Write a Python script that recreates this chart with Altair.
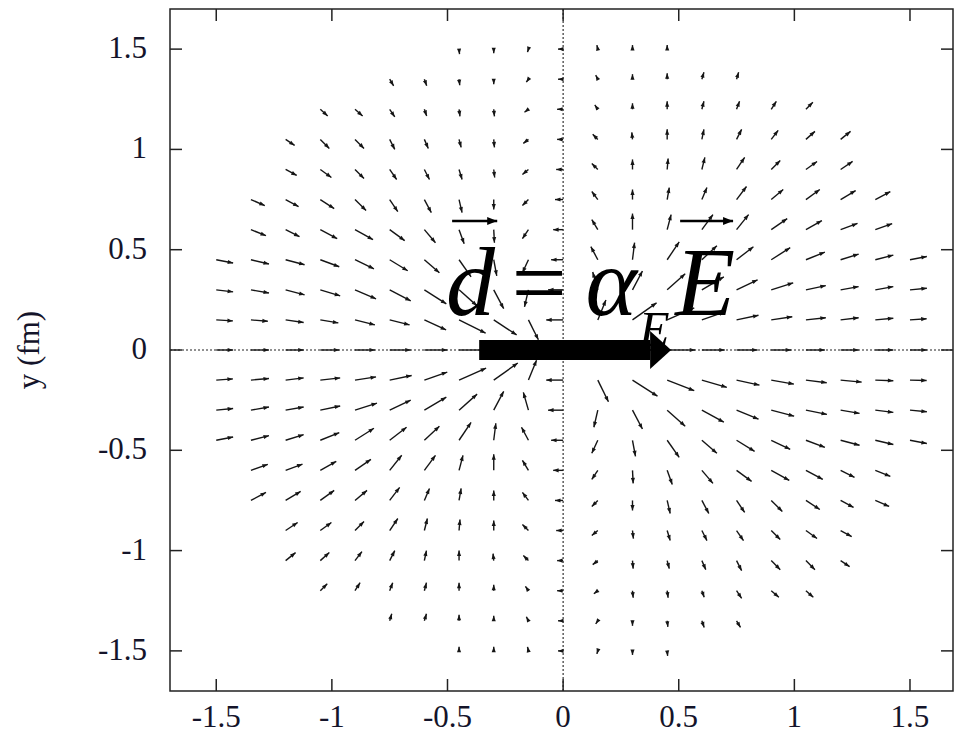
import altair as alt
import numpy as np
import pandas as pd

# Grid of sample points (fm), axis ticks and their labels
GRID_X = [-1.5, -1.35, -1.2, -1.05, -0.9, -0.75, -0.6, -0.45, -0.3, -0.15, 0.0,
          0.15, 0.3, 0.45, 0.6, 0.75, 0.9, 1.05, 1.2, 1.35, 1.5]
AXIS_TICKS = [-1.5, -1, -0.5, 0, 0.5, 1, 1.5]
TICK_LABELS = ["-1.5", "-1", "-0.5", "0", "0.5", "1", "1.5"]
Y_TITLE = "y (fm)"

# Displacement vectors (u, v) in fm, one pair of lists per row of the grid.
# Each row is centred on x = 0 and covers as many grid columns as it has values.
u_p150 = [0.002, 0, -0.004, -0.022, -0.004, 0, 0]
v_p150 = [-0.025, -0.020, -0.015, 0, 0.020, 0.020, 0.020]
u_p135 = [0.017, 0.010, 0.003, 0, -0.009, -0.022, -0.009, 0, 0, 0.009, 0.009]
v_p135 = [-0.033, -0.033, -0.030, -0.025, -0.015, 0, 0.020, 0.025, 0.030, 0.035, 0.035]
u_p120 = [0.032, 0.033, 0.022, 0.010, 0.004, 0.003, -0.017, -0.026, -0.013, 0, 0, 0.009, 0.013, 0.022, 0.030]
v_p120 = [-0.033, -0.033, -0.038, -0.033, -0.035, -0.035, -0.015, 0, 0.022, 0.030, 0.040, 0.040, 0.040, 0.040, 0.035]
u_p105 = [0.039, 0.039, 0.039, 0.022, 0.017, 0.009, 0.003, -0.022, -0.026, -0.022, -0.003, 0, 0.009, 0.022, 0.030, 0.039, 0.043]
v_p105 = [-0.030, -0.045, -0.045, -0.050, -0.045, -0.040, -0.040, -0.020, 0, 0.025, 0.035, 0.050, 0.050, 0.050, 0.045, 0.040, 0.040]
u_p090 = [0.048, 0.048, 0.039, 0.030, 0.022, 0.013, 0.004, -0.026, -0.030, -0.026, 0, 0.004, 0.013, 0.035, 0.039, 0.048, 0.052]
v_p090 = [-0.030, -0.040, -0.045, -0.050, -0.050, -0.050, -0.040, -0.025, 0, 0.030, 0.050, 0.055, 0.060, 0.060, 0.045, 0.040, 0.040]
u_p075 = [0.060, 0.056, 0.060, 0.048, 0.035, 0.030, 0.013, 0, -0.026, -0.035, -0.026, 0, 0.009, 0.022, 0.043, 0.052, 0.060, 0.065, 0.065]
v_p075 = [-0.030, -0.035, -0.045, -0.055, -0.060, -0.065, -0.065, -0.050, -0.030, 0, 0.040, 0.050, 0.060, 0.060, 0.065, 0.050, 0.050, 0.045, 0.040]
u_p060 = [0.065, 0.060, 0.073, 0.078, 0.065, 0.048, 0.022, 0.003, -0.026, -0.043, -0.026, 0, 0.017, 0.048, 0.052, 0.069, 0.069, 0.073, 0.073]
v_p060 = [-0.030, -0.035, -0.045, -0.050, -0.055, -0.065, -0.070, -0.065, -0.045, 0, 0.050, 0.080, 0.075, 0.075, 0.075, 0.055, 0.045, 0.031, 0.030]
u_p045 = [0.073, 0.078, 0.082, 0.082, 0.082, 0.078, 0.065, 0.052, 0.013, -0.026, -0.052, -0.030, 0.009, 0.052, 0.065, 0.073, 0.082, 0.082, 0.078, 0.078, 0.073]
v_p045 = [-0.016, -0.021, -0.025, -0.035, -0.045, -0.055, -0.065, -0.085, -0.080, -0.065, 0, 0.065, 0.085, 0.089, 0.070, 0.065, 0.060, 0.038, 0.028, 0.023, 0.016]
u_p030 = [0.073, 0.078, 0.082, 0.086, 0.091, 0.091, 0.095, 0.078, 0.043, -0.017, -0.065, -0.022, 0.043, 0.078, 0.095, 0.091, 0.095, 0.086, 0.078, 0.078, 0.073]
v_p030 = [-0.010, -0.016, -0.025, -0.030, -0.045, -0.055, -0.070, -0.080, -0.094, -0.085, 0, 0.089, 0.094, 0.080, 0.065, 0.050, 0.035, 0.021, 0.016, 0.016, 0.008]
u_p015 = [0.072, 0.073, 0.078, 0.078, 0.086, 0.086, 0.094, 0.115, 0.099, 0.043, -0.073, 0.035, 0.104, 0.117, 0.099, 0.095, 0.091, 0.086, 0.078, 0.078, 0.072]
v_p015 = [-0.005, -0.007, -0.013, -0.015, -0.025, -0.025, -0.050, -0.066, -0.075, -0.099, 0, 0.099, 0.085, 0.060, 0.040, 0.023, 0.016, 0.011, 0.011, 0.008, 0.006]
u_000 = [0.073, 0.078, 0.078, 0.082, 0.086, 0.091, 0.099, 0.121, 0.143, 0.164, 0.130, 0.164, 0.143, 0.121, 0.099, 0.091, 0.086, 0.082, 0.078, 0.078, 0.073]
v_000 = [0, 0, 0, 0, 0, 0, 0, 0, 0, 0, 0, 0, 0, 0, 0, 0, 0, 0, 0, 0, 0]
u_m015 = [0.072, 0.078, 0.078, 0.086, 0.091, 0.095, 0.099, 0.117, 0.104, 0.035, -0.073, 0.046, 0.108, 0.117, 0.108, 0.099, 0.098, 0.090, 0.091, 0.078, 0.072]
v_m015 = [0.006, 0.008, 0.011, 0.011, 0.016, 0.023, 0.040, 0.060, 0.085, 0.099, 0, -0.108, -0.080, -0.053, -0.036, -0.025, -0.020, -0.013, -0.010, -0.003, -0.002]
u_m030 = [0.073, 0.078, 0.078, 0.086, 0.095, 0.091, 0.095, 0.078, 0.043, -0.022, -0.065, -0.017, 0.043, 0.078, 0.095, 0.095, 0.099, 0.091, 0.082, 0.078, 0.073]
v_m030 = [0.008, 0.016, 0.016, 0.021, 0.035, 0.050, 0.065, 0.080, 0.094, 0.089, 0, -0.085, -0.094, -0.080, -0.060, -0.045, -0.030, -0.021, -0.016, -0.011, -0.008]
u_m045 = [0.073, 0.078, 0.078, 0.082, 0.082, 0.073, 0.065, 0.052, 0.009, -0.030, -0.052, -0.026, 0.013, 0.052, 0.065, 0.078, 0.082, 0.082, 0.082, 0.078, 0.073]
v_m045 = [0.016, 0.023, 0.028, 0.038, 0.060, 0.065, 0.070, 0.089, 0.085, 0.065, 0, -0.065, -0.080, -0.085, -0.065, -0.055, -0.045, -0.035, -0.025, -0.021, -0.016]
u_m060 = [0.073, 0.073, 0.069, 0.069, 0.052, 0.048, 0.017, 0, -0.026, -0.043, -0.026, 0.003, 0.022, 0.048, 0.065, 0.078, 0.073, 0.060, 0.065]
v_m060 = [0.030, 0.031, 0.045, 0.055, 0.075, 0.075, 0.075, 0.080, 0.050, 0, -0.045, -0.065, -0.070, -0.065, -0.055, -0.050, -0.045, -0.035, -0.030]
u_m075 = [0.065, 0.065, 0.060, 0.052, 0.043, 0.022, 0.009, 0, -0.026, -0.035, -0.026, 0, 0.013, 0.030, 0.035, 0.048, 0.060, 0.056, 0.060]
v_m075 = [0.040, 0.045, 0.050, 0.050, 0.065, 0.060, 0.060, 0.050, 0.040, 0, -0.030, -0.050, -0.065, -0.065, -0.060, -0.055, -0.045, -0.035, -0.030]
u_m090 = [0.052, 0.048, 0.039, 0.035, 0.013, 0.004, 0, -0.026, -0.030, -0.026, 0.004, 0.013, 0.022, 0.030, 0.039, 0.048, 0.048]
v_m090 = [0.040, 0.040, 0.045, 0.060, 0.060, 0.055, 0.050, 0.030, 0, -0.025, -0.040, -0.050, -0.050, -0.050, -0.045, -0.040, -0.030]
u_m105 = [0.043, 0.039, 0.030, 0.022, 0.009, 0, -0.003, -0.022, -0.026, -0.022, 0.003, 0.009, 0.017, 0.022, 0.039, 0.039, 0.039]
v_m105 = [0.040, 0.040, 0.045, 0.050, 0.050, 0.050, 0.035, 0.025, 0, -0.020, -0.040, -0.040, -0.045, -0.050, -0.045, -0.045, -0.030]
u_m120 = [0.030, 0.022, 0.013, 0.009, 0, 0, -0.013, -0.026, -0.017, 0.003, 0.004, 0.010, 0.022, 0.033, 0.032]
v_m120 = [0.035, 0.040, 0.040, 0.040, 0.040, 0.030, 0.022, 0, -0.015, -0.035, -0.035, -0.033, -0.038, -0.033, -0.033]
u_m135 = [0.009, 0.009, 0, 0, -0.009, -0.022, -0.009, 0, 0.003, 0.010, 0.017]
v_m135 = [0.035, 0.035, 0.030, 0.025, 0.020, 0, -0.015, -0.025, -0.030, -0.033, -0.033]
u_m150 = [0, 0, -0.004, -0.022, -0.004, 0, 0.002]
v_m150 = [0.020, 0.020, 0.020, 0, -0.015, -0.020, -0.025]

ROWS = [
    (1.5, u_p150, v_p150), (1.35, u_p135, v_p135), (1.2, u_p120, v_p120),
    (1.05, u_p105, v_p105), (0.9, u_p090, v_p090), (0.75, u_p075, v_p075),
    (0.6, u_p060, v_p060), (0.45, u_p045, v_p045), (0.3, u_p030, v_p030),
    (0.15, u_p015, v_p015), (0.0, u_000, v_000), (-0.15, u_m015, v_m015),
    (-0.3, u_m030, v_m030), (-0.45, u_m045, v_m045), (-0.6, u_m060, v_m060),
    (-0.75, u_m075, v_m075), (-0.9, u_m090, v_m090), (-1.05, u_m105, v_m105),
    (-1.2, u_m120, v_m120), (-1.35, u_m135, v_m135), (-1.5, u_m150, v_m150),
]

# Annotation: d = alpha_E E, and the large arrow along the x axis
BIG_ARROW_TAIL = -0.363
BIG_ARROW_TIP = 0.467
FORMULA_BASE_Y = 0.174
FORMULA_ITALIC = ["d", "α", "E"]
FORMULA_ITALIC_X = [-0.40, 0.208, 0.614]
FORMULA_EQ_X = -0.104
SUBSCRIPT_X, SUBSCRIPT_Y = 0.394, 0.02
OVER_ARROW_X1 = [-0.48, 0.506]
OVER_ARROW_X2 = [-0.285, 0.735]
OVER_ARROW_Y = 0.643

# ---- layout ----
X_DOMAIN = [-1.7, 1.686]
Y_DOMAIN = [-1.7, 1.7]
W, H = 783, 682
PX_X = W / (X_DOMAIN[1] - X_DOMAIN[0])
PX_Y = H / (Y_DOMAIN[1] - Y_DOMAIN[0])
INK = "#151515"
LABEL_INK = "#14142a"
SERIF = "Liberation Serif, Times New Roman, serif"
LABEL_SIZE = 31

recs = []
for y, us, vs in ROWS:
    n = (len(us) - 1) // 2
    for x, u, v in zip(GRID_X[10 - n: 11 + n], us, vs):
        ang = (np.degrees(np.arctan2(u * PX_X, v * PX_Y)) + 360) % 360
        recs.append({"x": x, "y": y, "xe": x + u, "ye": y + v, "ang": ang})
field = pd.DataFrame(recs)

xs = alt.Scale(domain=X_DOMAIN, nice=False, zero=False)
ys = alt.Scale(domain=Y_DOMAIN, nice=False, zero=False)


def X(f):
    return alt.X(f, scale=xs, axis=None)


def Y(f):
    return alt.Y(f, scale=ys, axis=None)


HEAD = "M0,0 L0.75,2 L-0.75,2 Z"

shafts = alt.Chart(field).mark_rule(color=INK, strokeWidth=1.4).encode(
    x=X("x:Q"), y=Y("y:Q"), x2="xe:Q", y2="ye:Q")

heads = alt.Chart(field).mark_point(shape=HEAD, filled=True, size=30, color=INK, opacity=1).encode(
    x=X("xe:Q"), y=Y("ye:Q"), angle=alt.Angle("ang:Q", scale=None))

zero_h = alt.Chart(pd.DataFrame({"a": [X_DOMAIN[0]], "b": [X_DOMAIN[1]], "y": [0.0]})).mark_rule(
    color="#222222", strokeWidth=1.1, strokeDash=[2, 2]).encode(x=X("a:Q"), x2="b:Q", y=Y("y:Q"))
zero_v = alt.Chart(pd.DataFrame({"x": [0.0], "a": [Y_DOMAIN[0]], "b": [Y_DOMAIN[1]]})).mark_rule(
    color="#222222", strokeWidth=1.1, strokeDash=[2, 2]).encode(x=X("x:Q"), y=Y("a:Q"), y2="b:Q")

# inward ticks on all four sides, labels drawn as text
tick_df = pd.DataFrame({"t": AXIS_TICKS, "lab": TICK_LABELS})
TL = 12
tick_style = dict(color="#222222", strokeWidth=1.5)
ticks_left = alt.Chart(tick_df).mark_rule(**tick_style).encode(
    y=Y("t:Q"), x=alt.value(0), x2=alt.value(TL))
ticks_right = alt.Chart(tick_df).mark_rule(**tick_style).encode(
    y=Y("t:Q"), x=alt.value(W - TL), x2=alt.value(W))
ticks_bottom = alt.Chart(tick_df).mark_rule(**tick_style).encode(
    x=X("t:Q"), y=alt.value(H - TL), y2=alt.value(H))
ticks_top = alt.Chart(tick_df).mark_rule(**tick_style).encode(
    x=X("t:Q"), y=alt.value(0), y2=alt.value(TL))

ylabels = alt.Chart(tick_df).mark_text(font=SERIF, fontSize=LABEL_SIZE, color=LABEL_INK,
                                       align="right", baseline="middle").encode(
    y=Y("t:Q"), x=alt.value(-23), text="lab:N")
xlabels = alt.Chart(tick_df).mark_text(font=SERIF, fontSize=LABEL_SIZE, color=LABEL_INK,
                                       align="center", baseline="top").encode(
    x=X("t:Q"), y=alt.value(H + 12), text="lab:N")
ytitle = alt.Chart(pd.DataFrame({"t": [Y_TITLE]})).mark_text(
    font=SERIF, fontSize=LABEL_SIZE, color=LABEL_INK, angle=270, align="center",
    baseline="middle").encode(x=alt.value(-140), y=alt.value(341), text="t:N")

formula_df = pd.DataFrame({"t": FORMULA_ITALIC, "x": FORMULA_ITALIC_X,
                           "y": [FORMULA_BASE_Y] * len(FORMULA_ITALIC)})
formula = alt.Chart(formula_df).mark_text(font=SERIF, fontSize=98, fontStyle="italic",
                                          color="black", align="center", baseline="alphabetic").encode(
    x=X("x:Q"), y=Y("y:Q"), text="t:N")
equals = alt.Chart(pd.DataFrame({"t": ["="], "x": [FORMULA_EQ_X], "y": [FORMULA_BASE_Y]})).mark_text(
    font=SERIF, fontSize=98, color="black", align="center", baseline="alphabetic").encode(
    x=X("x:Q"), y=Y("y:Q"), text="t:N")
subscript = alt.Chart(pd.DataFrame({"t": ["E"], "x": [SUBSCRIPT_X], "y": [SUBSCRIPT_Y]})).mark_text(
    font=SERIF, fontSize=50, fontStyle="italic", color="black", align="center",
    baseline="alphabetic").encode(x=X("x:Q"), y=Y("y:Q"), text="t:N")

over_df = pd.DataFrame({"a": OVER_ARROW_X1, "b": OVER_ARROW_X2, "y": [OVER_ARROW_Y] * 2})
over_shaft = alt.Chart(over_df).mark_rule(color="black", strokeWidth=2.5).encode(
    x=X("a:Q"), x2="b:Q", y=Y("y:Q"))
over_head = alt.Chart(over_df).mark_point(shape="M0,0 L0.8,2 L-0.8,2 Z", filled=True, size=100,
                                          color="black", opacity=1, angle=90).encode(
    x=X("b:Q"), y=Y("y:Q"))

big_df = pd.DataFrame({"a": [BIG_ARROW_TAIL], "b": [BIG_ARROW_TIP - 21 / PX_X],
                       "tip": [BIG_ARROW_TIP], "y": [0.0]})
big_shaft = alt.Chart(big_df).mark_rule(color="black", strokeWidth=20).encode(
    x=X("a:Q"), x2="b:Q", y=Y("y:Q"))
big_head = alt.Chart(big_df).mark_point(shape="M0,0 L1.81,2 L-1.81,2 Z", filled=True, size=441,
                                        color="black", opacity=1, angle=90).encode(
    x=X("tip:Q"), y=Y("y:Q"))

chart = alt.layer(
    shafts, heads, zero_h, zero_v, ticks_left, ticks_right, ticks_bottom, ticks_top,
    ylabels, xlabels, ytitle,
    formula, equals, subscript, over_shaft, over_head, big_shaft, big_head,
).properties(
    width=W, height=H,
    autosize=alt.AutoSizeParams(type="none"),
    padding={"left": 170, "top": 9, "right": 1, "bottom": 43},
    background="white",
).configure_view(stroke="#222222", strokeWidth=1.5)

chart.save("out.html", embed_options={"renderer": "svg", "actions": False})
